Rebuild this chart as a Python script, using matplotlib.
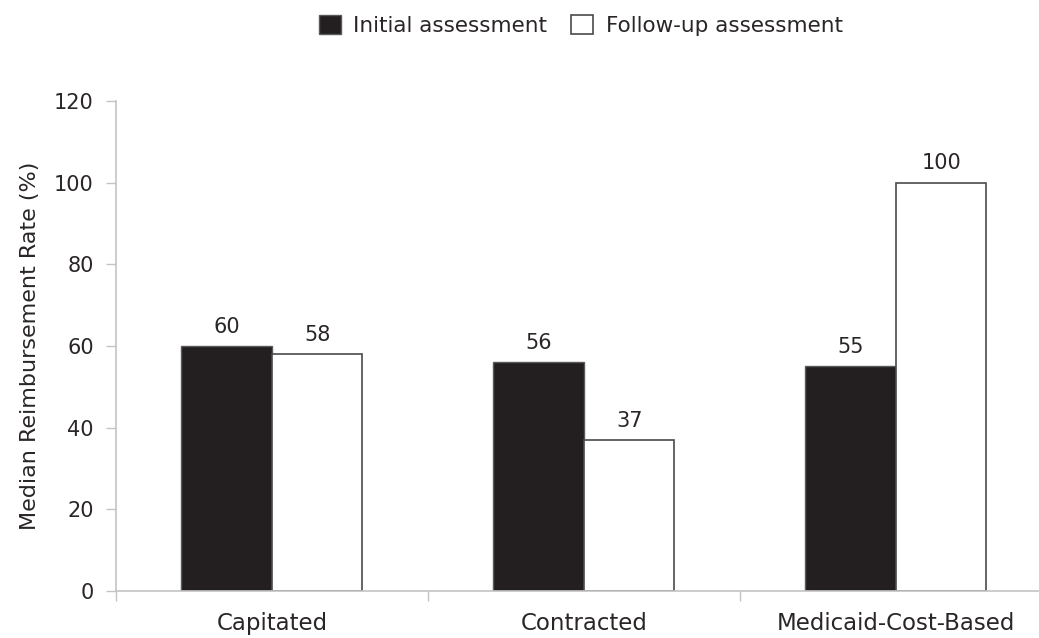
import numpy as np
import matplotlib
matplotlib.use('Agg')
import matplotlib.pyplot as plt

# Data
categories = ['Capitated', 'Contracted', 'Medicaid-Cost-Based']
initial = [60, 56, 55]
follow_up = [58, 37, 100]
series_names = ['Initial assessment', 'Follow-up assessment']
y_ticks = [0, 20, 40, 60, 80, 100, 120]

plt.rcParams['font.family'] = ['DejaVu Sans']
TXT = '#2a2627'
GRID = '#c4c4c4'

fig = plt.figure(figsize=(10.39, 6.38), dpi=100)
ax = fig.add_axes([0.1116, 0.0737, 0.9009, 0.768])

x = np.arange(len(categories))
w = 0.29
b1 = ax.bar(x - w / 2, initial, w, color='#231f20', edgecolor='#5a5a5a',
            linewidth=1.0, label=series_names[0])
b2 = ax.bar(x + w / 2, follow_up, w, color='white', edgecolor='#4a4a4a',
            linewidth=1.2, label=series_names[1])

# value labels above bars
for bars, vals in [(b1, initial), (b2, follow_up)]:
    for rect, v in zip(bars, vals):
        ax.text(rect.get_x() + rect.get_width() / 2, v + 2.3, f'{v}',
                ha='center', va='bottom', fontsize=15, color=TXT)

ax.set_xlim(-0.5, 2.5)
ax.set_ylim(0, 120)
ax.set_yticks(y_ticks)
ax.tick_params(axis='y', labelsize=15, colors=TXT, color=GRID, length=7,
               width=1, pad=9)
ax.set_xticks([-0.5, 0.5, 1.5, 2.5])
ax.set_xticklabels([])
ax.set_xticks(x, minor=True)
ax.set_xticklabels(categories, minor=True)
ax.tick_params(axis='x', which='major', color=GRID, length=7, width=1)
ax.tick_params(axis='x', which='minor', length=0, labelsize=16.5,
               colors=TXT, pad=15)

for s in ['top', 'right']:
    ax.spines[s].set_visible(False)
for s in ['left', 'bottom']:
    ax.spines[s].set_color(GRID)
    ax.spines[s].set_linewidth(1.2)

ax.set_ylabel('Median Reimbursement Rate (%)', fontsize=16, color=TXT,
              labelpad=10)

fig.legend(handles=[b1, b2], labels=series_names, loc='center',
           bbox_to_anchor=(0.559, 0.96), ncol=2, frameon=False,
           fontsize=15.5, handlelength=1.0, handleheight=1.0,
           columnspacing=1.1, handletextpad=0.6, labelcolor=TXT)

fig.savefig('out.png', dpi=100)
